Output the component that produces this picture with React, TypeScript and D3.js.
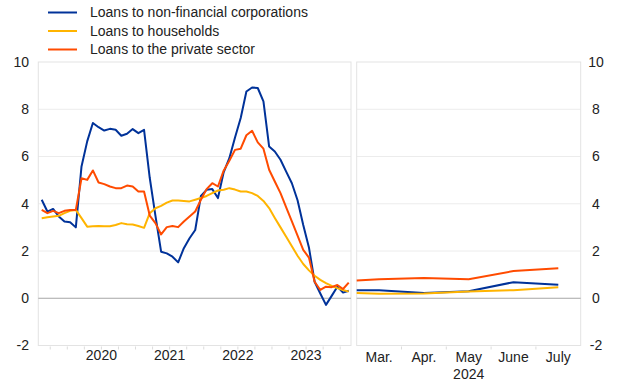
import { useEffect, useRef } from "react";
import * as d3 from "d3";

// monthly data, Aug 2019 - Feb 2024 (left panel)
const nfcLoans = [
  4.17, 3.67, 3.78, 3.46, 3.25, 3.22, 3.0, 5.58, 6.64, 7.42, 7.24, 7.1, 7.17, 7.13,
  6.88, 6.96, 7.16, 6.99, 7.13, 5.1, 3.5, 1.97, 1.9, 1.76, 1.52, 2.12, 2.54, 2.89,
  4.33, 4.59, 4.62, 4.24, 5.33, 5.93, 6.8, 7.63, 8.75, 8.92, 8.9, 8.33, 6.42, 6.21,
  5.86, 5.36, 4.87, 4.15, 3.1, 2.15, 0.7, 0.2, -0.28, 0.1, 0.49, 0.24, 0.32,
];
const householdLoans = [
  3.39, 3.43, 3.46, 3.49, 3.6, 3.7, 3.74, 3.39, 3.03, 3.05, 3.06, 3.05, 3.05, 3.1,
  3.18, 3.13, 3.12, 3.06, 2.98, 3.6, 3.81, 3.91, 4.05, 4.14, 4.14, 4.12, 4.1, 4.17,
  4.24, 4.33, 4.45, 4.56, 4.59, 4.66, 4.6, 4.52, 4.52, 4.45, 4.33, 4.12, 3.82, 3.4,
  3.0, 2.6, 2.2, 1.8, 1.45, 1.18, 0.95, 0.78, 0.64, 0.52, 0.43, 0.35, 0.28,
];
const privateLoans = [
  3.74, 3.6, 3.7, 3.6, 3.7, 3.74, 3.74, 5.08, 5.01, 5.41, 4.9, 4.83, 4.73, 4.66,
  4.66, 4.77, 4.73, 4.52, 4.52, 3.5, 3.18, 2.7, 3.01, 3.06, 3.01, 3.25, 3.46, 3.67,
  4.17, 4.62, 4.87, 4.73, 5.4, 5.82, 6.28, 6.33, 6.9, 7.09, 6.6, 6.33, 5.44, 4.94,
  4.45, 3.85, 3.25, 2.65, 2.05, 1.72, 0.7, 0.35, 0.49, 0.47, 0.56, 0.39, 0.66,
];
const leftMonths = d3.timeMonth.range(new Date(2019, 7, 1), new Date(2024, 2, 1));
const yearLabels = ["2020", "2021", "2022", "2023"];

// right panel, 2024 (first point = end of February)
const rightMonths = ["Mar.", "Apr.", "May", "June", "July"];
const rightSteps = [-0.5, 0, 1, 2, 3, 4];
const nfcRight = [0.34, 0.34, 0.22, 0.3, 0.68, 0.57];
const householdRight = [0.22, 0.19, 0.2, 0.29, 0.34, 0.47];
const privateRight = [0.75, 0.8, 0.86, 0.8, 1.15, 1.27];

const yTicks = [-2, 0, 2, 4, 6, 8, 10];

const SERIES = [
  { name: "Loans to non-financial corporations", color: "#003299", left: nfcLoans, right: nfcRight },
  { name: "Loans to households", color: "#ffb400", left: householdLoans, right: householdRight },
  { name: "Loans to the private sector", color: "#ff4b00", left: privateLoans, right: privateRight },
];

const FONT = "Arial, 'Liberation Sans', sans-serif";

export default function App() {
  const svgRef = useRef<SVGSVGElement>(null);

  useEffect(() => {
    if (!svgRef.current) return;
    const svg = d3.select(svgRef.current);
    svg.selectAll("*").remove();

    const top = 62;
    const bottom = 345.5;
    const left = { x0: 38.3, x1: 351 };
    const right = { x0: 356.7, x1: 580.7 };

    const y = d3.scaleLinear().domain([-2, 10]).range([bottom, top]);
    const xL = d3
      .scaleLinear()
      .domain([-0.6, leftMonths.length - 0.6])
      .range([left.x0, left.x1]);
    const xR = d3
      .scaleLinear()
      .domain([-0.5, rightMonths.length - 0.5])
      .range([right.x0, right.x1]);

    // panels: gridlines and frames
    [left, right].forEach((p) => {
      svg
        .append("g")
        .selectAll("line")
        .data(yTicks.filter((t) => t !== 0 && t !== 10 && t !== -2))
        .enter()
        .append("line")
        .attr("x1", p.x0)
        .attr("x2", p.x1)
        .attr("y1", (d) => y(d))
        .attr("y2", (d) => y(d))
        .attr("stroke", "#ececec")
        .attr("stroke-width", 1);
      svg
        .append("rect")
        .attr("x", p.x0)
        .attr("y", top)
        .attr("width", p.x1 - p.x0)
        .attr("height", bottom - top)
        .attr("fill", "none")
        .attr("stroke", "#e3e3e3")
        .attr("stroke-width", 1);
      svg
        .append("line")
        .attr("x1", p.x0)
        .attr("x2", p.x1)
        .attr("y1", y(0))
        .attr("y2", y(0))
        .attr("stroke", "#a6a6a6")
        .attr("stroke-width", 1);
    });

    // y labels both sides
    svg
      .append("g")
      .selectAll("text")
      .data(yTicks)
      .enter()
      .append("text")
      .attr("x", 29)
      .attr("y", (d) => y(d))
      .attr("dy", "0.35em")
      .attr("text-anchor", "end")
      .attr("font-family", FONT)
      .attr("font-size", 14)
      .attr("fill", "#222")
      .text((d) => d);
    svg
      .append("g")
      .selectAll("text")
      .data(yTicks)
      .enter()
      .append("text")
      .attr("x", 596)
      .attr("y", (d) => y(d))
      .attr("dy", "0.35em")
      .attr("text-anchor", "middle")
      .attr("font-family", FONT)
      .attr("font-size", 14)
      .attr("fill", "#222")
      .text((d) => d);

    // x ticks
    const quarterIdx = leftMonths
      .map((d, i) => (d.getMonth() % 3 === 0 ? i : -1))
      .filter((i) => i >= 0);
    svg
      .append("g")
      .selectAll("line")
      .data(quarterIdx)
      .enter()
      .append("line")
      .attr("x1", (d) => xL(d - 0.5))
      .attr("x2", (d) => xL(d - 0.5))
      .attr("y1", bottom + 1)
      .attr("y2", bottom + 4)
      .attr("stroke", "#dcdcdc");
    svg
      .append("g")
      .selectAll("line")
      .data(d3.range(rightMonths.length - 1))
      .enter()
      .append("line")
      .attr("x1", (d) => xR(d + 0.5))
      .attr("x2", (d) => xR(d + 0.5))
      .attr("y1", bottom + 1)
      .attr("y2", bottom + 4)
      .attr("stroke", "#dcdcdc");

    // year labels centred mid-year
    svg
      .append("g")
      .selectAll("text")
      .data(yearLabels)
      .enter()
      .append("text")
      .attr("x", (d) => {
        const jan = leftMonths.findIndex((m) => m.getFullYear() === +d && m.getMonth() === 0);
        return xL(jan + 5.5);
      })
      .attr("y", 360)
      .attr("text-anchor", "middle")
      .attr("font-family", FONT)
      .attr("font-size", 14)
      .attr("fill", "#222")
      .text((d) => d);
    svg
      .append("g")
      .selectAll("text")
      .data(rightMonths)
      .enter()
      .append("text")
      .attr("x", (_, i) => xR(i))
      .attr("y", 361.5)
      .attr("text-anchor", "middle")
      .attr("font-family", FONT)
      .attr("font-size", 14)
      .attr("fill", "#222")
      .text((d) => d);
    svg
      .append("text")
      .attr("x", xR(2))
      .attr("y", 379)
      .attr("text-anchor", "middle")
      .attr("font-family", FONT)
      .attr("font-size", 14)
      .attr("fill", "#222")
      .text("2024");

    // lines
    const lineL = d3
      .line<number>()
      .x((_, i) => xL(i))
      .y((d) => y(d));
    const lineR = d3
      .line<number>()
      .x((_, i) => xR(rightSteps[i]))
      .y((d) => y(d));
    SERIES.forEach((s) => {
      svg
        .append("path")
        .attr("d", lineL(s.left))
        .attr("fill", "none")
        .attr("stroke", s.color)
        .attr("stroke-width", 2)
        .attr("stroke-linejoin", "round");
      svg
        .append("path")
        .attr("d", lineR(s.right))
        .attr("fill", "none")
        .attr("stroke", s.color)
        .attr("stroke-width", 2)
        .attr("stroke-linejoin", "round");
    });

    // legend
    const legend = svg
      .append("g")
      .selectAll("g")
      .data(SERIES)
      .enter()
      .append("g")
      .attr("transform", (_, i) => `translate(48,${12.5 + i * 18.5})`);
    legend
      .append("line")
      .attr("x1", 0)
      .attr("x2", 29)
      .attr("stroke", (d) => d.color)
      .attr("stroke-width", 2);
    legend
      .append("text")
      .attr("x", 42)
      .attr("dy", "0.35em")
      .attr("font-family", FONT)
      .attr("font-size", 14)
      .attr("fill", "#222")
      .text((d) => d.name);
  }, []);

  return (
    <svg
      ref={svgRef}
      width={620}
      height={387}
      style={{ position: "absolute", left: 0, top: 0, background: "#fff" }}
    />
  );
}
